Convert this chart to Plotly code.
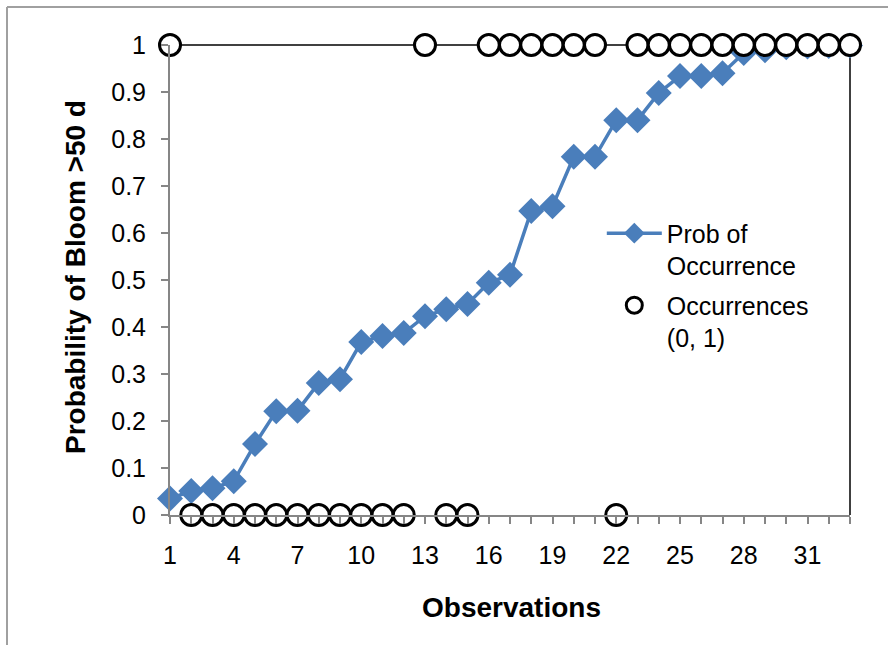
import plotly.graph_objects as go

# Observation index (category axis 1..33)
observations = list(range(1, 34))

# Modelled probability of a bloom lasting more than 50 days
prob_of_occurrence = [
    0.035, 0.051, 0.057, 0.072, 0.151, 0.221, 0.222, 0.281, 0.289, 0.368,
    0.381, 0.387, 0.423, 0.438, 0.449, 0.494, 0.511, 0.647, 0.657, 0.762,
    0.762, 0.840, 0.840, 0.898, 0.934, 0.934, 0.940, 0.983, 0.989, 0.995,
    0.997, 0.998, 0.999,
]

# Observed occurrences (0 = no, 1 = yes)
occurrences = [
    1, 0, 0, 0, 0, 0, 0, 0, 0, 0,
    0, 0, 1, 0, 0, 1, 1, 1, 1, 1,
    1, 0, 1, 1, 1, 1, 1, 1, 1, 1,
    1, 1, 1,
]

y_ticks = [0, 0.1, 0.2, 0.3, 0.4, 0.5, 0.6, 0.7, 0.8, 0.9, 1]
y_tick_text = ["0", "0.1", "0.2", "0.3", "0.4", "0.5", "0.6", "0.7", "0.8", "0.9", "1"]
x_ticks = [1, 4, 7, 10, 13, 16, 19, 22, 25, 28, 31]

BLUE = "#4A7EBB"
AXIS_GREY = "#868686"
FONT = "Liberation Sans, Arial, sans-serif"
TICK_SIZE = 25
TITLE_SIZE = 28

fig = go.Figure()

fig.add_trace(go.Scatter(
    x=observations, y=prob_of_occurrence,
    mode="lines+markers",
    name="Prob of<br>Occurrence",
    legendgroup="prob",
    line=dict(color=BLUE, width=3.5),
    marker=dict(symbol="diamond", size=20, color=BLUE),
    cliponaxis=False,
))

fig.add_trace(go.Scatter(
    x=observations, y=occurrences,
    mode="markers",
    name="Occurrences<br>(0, 1)",
    legendgroup="occ",
    marker=dict(symbol="circle", size=21, color="white",
                line=dict(color="black", width=3)),
    cliponaxis=False,
))

fig.update_layout(
    width=888, height=645,
    margin=dict(l=170, r=38, t=45, b=130),
    paper_bgcolor="white",
    plot_bgcolor="white",
    font=dict(family=FONT, size=TICK_SIZE, color="black"),
    showlegend=True,
    legend=dict(
        x=0.635, y=0.648, xanchor="left", yanchor="top",
        bgcolor="rgba(0,0,0,0)",
        font=dict(family=FONT, size=TICK_SIZE, color="black"),
        itemwidth=55,
        valign="top",
        tracegroupgap=4,
    ),
    xaxis=dict(
        range=[1, 33],
        tickmode="array", tickvals=x_ticks, ticktext=[str(v) for v in x_ticks],
        ticks="outside", ticklen=7, tickcolor=AXIS_GREY, tickwidth=1.5,
        minor=dict(tickmode="linear", tick0=1, dtick=1, ticks="outside",
                   ticklen=7, tickcolor=AXIS_GREY, tickwidth=1.5, showgrid=False),
        showline=True, linecolor=AXIS_GREY, linewidth=2,
        showgrid=False, zeroline=False,
        ticklabelstandoff=10,
        tickfont=dict(family=FONT, size=TICK_SIZE, color="black"),
    ),
    yaxis=dict(
        range=[0, 1],
        tickmode="array", tickvals=y_ticks, ticktext=y_tick_text,
        ticks="outside", ticklen=7, tickcolor=AXIS_GREY, tickwidth=1.5,
        showline=True, linecolor=AXIS_GREY, linewidth=2,
        showgrid=False, zeroline=False,
        ticklabelstandoff=10,
        tickfont=dict(family=FONT, size=TICK_SIZE, color="black"),
    ),
    shapes=[
        # plot-area frame: top and right edges
        dict(type="line", xref="paper", yref="paper", x0=0, x1=1, y0=1, y1=1,
             line=dict(color="black", width=1.5), layer="below"),
        dict(type="line", xref="paper", yref="paper", x0=1, x1=1, y0=0, y1=1,
             line=dict(color="black", width=1.5), layer="below"),
        # chart border (top and left edges)
        dict(type="line", xref="paper", yref="paper",
             x0=(7 - 170) / 680, x1=(888 - 170) / 680,
             y0=(515 - 7) / 470, y1=(515 - 7) / 470,
             line=dict(color="#A0A0A0", width=2)),
        dict(type="line", xref="paper", yref="paper",
             x0=(7 - 170) / 680, x1=(7 - 170) / 680,
             y0=(515 - 7) / 470, y1=(515 - 650) / 470,
             line=dict(color="#A0A0A0", width=2)),
    ],
    annotations=[
        dict(text="<b>Probability of Bloom >50 d</b>", textangle=-90,
             xref="paper", yref="paper", x=(75 - 170) / 680, y=(515 - 277) / 470,
             xanchor="center", yanchor="middle", showarrow=False,
             font=dict(family=FONT, size=TITLE_SIZE, color="black")),
        dict(text="<b>Observations</b>",
             xref="paper", yref="paper", x=(511 - 170) / 680, y=(515 - 607) / 470,
             xanchor="center", yanchor="middle", showarrow=False,
             font=dict(family=FONT, size=TITLE_SIZE, color="black")),
    ],
)

fig.write_html("out.html")
